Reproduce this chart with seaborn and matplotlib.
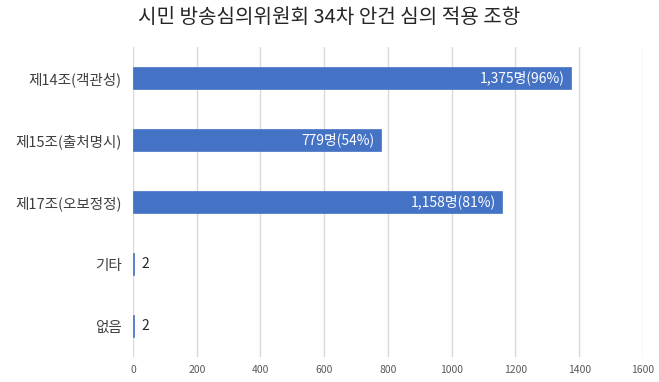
import matplotlib
matplotlib.use("Agg")
import matplotlib.pyplot as plt
import seaborn as sns
import pandas as pd

categories = ["제14조(객관성)", "제15조(출처명시)", "제17조(오보정정)", "기타", "없음"]
values = [1375, 779, 1158, 2, 2]
bar_labels = ["1,375명(96%)", "779명(54%)", "1,158명(81%)", "2", "2"]
x_ticks = [0, 200, 400, 600, 800, 1000, 1200, 1400, 1600]

sns.set_theme(style="white")
plt.rcParams['font.family'] = ['Noto Sans CJK KR', 'DejaVu Sans']

df = pd.DataFrame({"cat": categories, "val": values})

fig = plt.figure(figsize=(6.59, 3.82), dpi=100)
ax = fig.add_axes([0.2018, 0.0654, 0.7739, 0.8116])
sns.barplot(data=df, x="val", y="cat", orient="h", color="#4472C4",
            saturation=1, width=0.37, ax=ax, edgecolor="#4472C4", linewidth=0.5)

ax.set_xlim(0, 1600)
ax.set_ylim(4.5, -0.5)
ax.set_xticks(x_ticks)
ax.set_xticklabels([str(t) for t in x_ticks], fontsize=7.5, color="#595959")
ax.tick_params(axis="y", labelsize=10.5, labelcolor="#404040", length=0, pad=8)
ax.tick_params(axis="x", length=0, pad=6)
ax.set_xlabel("")
ax.set_ylabel("")
ax.grid(axis="x", color="#D9D9D9", linewidth=1)
ax.set_axisbelow(True)
for s in ax.spines.values():
    s.set_visible(False)

for i, (v, lab) in enumerate(zip(values, bar_labels)):
    if v > 100:
        ax.text(v - 20, i, lab, ha="right", va="center", color="white", fontsize=10)
    else:
        ax.text(v + 25, i, lab, ha="left", va="center", color="#262626", fontsize=10)

fig.text(0.5, 0.955, "시민 방송심의위원회 34차 안건 심의 적용 조항", ha="center", va="center",
         fontsize=14.5, color="#262626")

fig.savefig("out.png", dpi=100)
